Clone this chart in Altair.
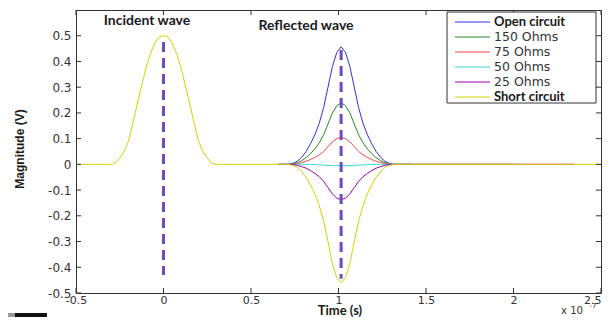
import altair as alt
import pandas as pd

# ---------------- data ----------------
SERIES = ["Open circuit", "150 Ohms", "75 Ohms", "50 Ohms", "25 Ohms", "Short circuit"]
COLORS = ["#3030e0", "#228b22", "#f04848", "#30d8d8", "#a000b0", "#d4d400"]

XTICKS = [-0.5, 0, 0.5, 1, 1.5, 2, 2.5]
YTICKS = [0.5, 0.4, 0.3, 0.2, 0.1, 0, -0.1, -0.2, -0.3, -0.4, -0.5]

# incident pulse (time x 1e-7 s)
inc_x = [-0.30, -0.275, -0.25, -0.225, -0.20, -0.175, -0.15, -0.125, -0.10, -0.075, -0.05, -0.025, 0.0,
         0.025, 0.05, 0.075, 0.10, 0.125, 0.15, 0.175, 0.20, 0.225, 0.25, 0.275, 0.30]
inc_y = [0, 0.005, 0.025, 0.05, 0.09, 0.16, 0.235, 0.305, 0.375, 0.43, 0.47, 0.495, 0.5,
         0.495, 0.47, 0.43, 0.375, 0.305, 0.235, 0.16, 0.09, 0.05, 0.025, 0.005, 0]

# reflected pulses
refl_x = [0.715, 0.74, 0.765, 0.79, 0.815, 0.84, 0.865, 0.89, 0.915, 0.94, 0.965, 0.99, 1.015,
          1.04, 1.065, 1.09, 1.115, 1.14, 1.165, 1.19, 1.215, 1.24, 1.265, 1.29, 1.315]
open_y = [0, 0.004, 0.012, 0.028, 0.05, 0.08, 0.115, 0.16, 0.22, 0.30, 0.38, 0.435, 0.457,
          0.435, 0.38, 0.30, 0.22, 0.16, 0.115, 0.08, 0.05, 0.028, 0.012, 0.004, 0]
ohm150_y = [0, 0.002, 0.006, 0.015, 0.026, 0.042, 0.06, 0.084, 0.115, 0.157, 0.2, 0.228, 0.24,
            0.228, 0.2, 0.157, 0.115, 0.084, 0.06, 0.042, 0.026, 0.015, 0.006, 0.002, 0]
ohm75_y = [0, 0.001, 0.003, 0.007, 0.012, 0.019, 0.027, 0.037, 0.05, 0.069, 0.087, 0.1, 0.105,
           0.1, 0.087, 0.069, 0.05, 0.037, 0.027, 0.019, 0.012, 0.007, 0.003, 0.001, 0]
ohm50_y = [0, 0, 0, 0, 0, 0, -0.001, -0.002, -0.003, -0.004, -0.005, -0.005, -0.005,
           -0.005, -0.005, -0.004, -0.003, -0.002, -0.001, 0, 0, 0, 0, 0, 0]
ohm25_y = [0, -0.001, -0.004, -0.009, -0.015, -0.024, -0.035, -0.048, -0.066, -0.09, -0.115, -0.131, -0.138,
           -0.131, -0.115, -0.09, -0.066, -0.048, -0.035, -0.024, -0.015, -0.009, -0.004, -0.001, 0]
short_refl_y = [0, -0.004, -0.012, -0.028, -0.05, -0.08, -0.115, -0.16, -0.22, -0.30, -0.385, -0.44, -0.46,
                -0.44, -0.385, -0.30, -0.22, -0.16, -0.115, -0.08, -0.05, -0.028, -0.012, -0.004, 0]

refl_start = 0.655
refl_end = [1.42, 2.0, 2.35, 1.42, 2.35]

# dashed markers
dash_x = [0, 1.015]
dash_top = [0.476, 0.445]
dash_bottom = [-0.43, -0.445]

# ---------------- layout constants ----------------
W, H = 525, 283
XD = [-0.5, 2.5]
YD = [-0.5, 0.6]
TICK_PX = 5
dx = TICK_PX * (XD[1] - XD[0]) / W
dy = TICK_PX * (YD[1] - YD[0]) / H

xs = alt.Scale(domain=XD, nice=False, zero=False)
ys = alt.Scale(domain=YD, nice=False, zero=False)

x_axis = alt.Axis(values=XTICKS, labelExpr="'' + datum.value", ticks=False, domain=False, grid=False,
                  title=None, labelFont="DejaVu Sans", labelFontSize=11, labelColor="#333",
                  labelPadding=1, labelFlush=False, labelOverlap=False,
                  labelAlign={"condition": {"test": "datum.value == 2.5", "value": "right"}, "value": "center"})
y_axis = alt.Axis(values=YTICKS, labelExpr="'' + datum.value", ticks=False, domain=False, grid=False,
                  title=None, labelFont="DejaVu Sans", labelFontSize=12, labelColor="#333",
                  labelPadding=5, labelOverlap=False)

layers = []

# series lines
ref_vals = [open_y, ohm150_y, ohm75_y, ohm50_y, ohm25_y]
for i, name in enumerate(SERIES):
    if name == "Short circuit":
        xx = [XD[0]] + inc_x + refl_x + [XD[1]]
        yy = [0] + inc_y + short_refl_y + [0]
    else:
        xx = [refl_start] + refl_x + [refl_end[i]]
        yy = [0] + ref_vals[i] + [0]
    df = pd.DataFrame({"t": xx, "v": yy, "i": range(len(xx))})
    layers.append(
        alt.Chart(df).mark_line(color=COLORS[i], strokeWidth=1).encode(
            x=alt.X("t:Q", scale=xs, axis=x_axis),
            y=alt.Y("v:Q", scale=ys, axis=y_axis),
            order="i:Q",
        )
    )

# dashed purple markers
dash_df = pd.DataFrame({"t": dash_x, "top": dash_top, "bot": dash_bottom})
layers.append(
    alt.Chart(dash_df).mark_rule(color="#7447c0", strokeWidth=3, strokeDash=[10, 6]).encode(
        x=alt.X("t:Q", scale=xs, axis=x_axis), y=alt.Y("top:Q", scale=ys, axis=y_axis), y2="bot:Q"
    )
)

# inward ticks on all four sides
xt = pd.DataFrame({"t": XTICKS * 2,
                   "a": [YD[0]] * len(XTICKS) + [YD[1]] * len(XTICKS),
                   "b": [YD[0] + dy] * len(XTICKS) + [YD[1] - dy] * len(XTICKS)})
yt = pd.DataFrame({"v": YTICKS * 2,
                   "a": [XD[0]] * len(YTICKS) + [XD[1]] * len(YTICKS),
                   "b": [XD[0] + dx] * len(YTICKS) + [XD[1] - dx] * len(YTICKS)})
layers.append(alt.Chart(xt).mark_rule(color="#333", strokeWidth=1).encode(
    x=alt.X("t:Q", scale=xs, axis=x_axis), y=alt.Y("a:Q", scale=ys, axis=y_axis), y2="b:Q"))
layers.append(alt.Chart(yt).mark_rule(color="#333", strokeWidth=1).encode(
    y=alt.Y("v:Q", scale=ys, axis=y_axis), x=alt.X("a:Q", scale=xs, axis=x_axis), x2="b:Q"))

one = pd.DataFrame({"k": [0]})

# annotations
def label(txt, px, py, font="Lato", size=14, weight="bold", angle=0, color="#1a1a1a", align="center"):
    return alt.Chart(pd.DataFrame({"s": [txt]})).mark_text(
        font=font, fontSize=size, fontWeight=weight, angle=angle, color=color,
        align=align, baseline="middle").encode(text="s:N", x=alt.value(px), y=alt.value(py))

layers.append(label("Incident wave", 71, 11))
layers.append(label("Reflected wave", 230, 16))
layers.append(label("Time (s)", 264, 301, size=13))
layers.append(label("Magnitude (V)", -56, 139, font="Liberation Sans", size=12, angle=270))
layers.append(label("x 10", 496, 301, font="DejaVu Sans", size=10, weight="normal", color="#333"))
layers.append(label("-7", 517, 296, font="DejaVu Sans", size=7, weight="normal", color="#333"))

# legend
layers.append(alt.Chart(one).mark_rect(fill="white", stroke="#333", strokeWidth=1).encode(
    x=alt.value(371), x2=alt.value(520), y=alt.value(2), y2=alt.value(93)))
leg = pd.DataFrame({"series": SERIES, "row": list(range(len(SERIES)))})
col = alt.Color("series:N", scale=alt.Scale(domain=SERIES, range=COLORS), legend=None)
leg_base = alt.Chart(leg).transform_calculate(py="12 + 15 * datum.row")
layers.append(leg_base.mark_rule(strokeWidth=1).encode(
    x=alt.value(379), x2=alt.value(414), y=alt.Y("py:Q", scale=None), color=col))
bold_names = ["Open circuit", "Short circuit"]
layers.append(leg_base.transform_filter(alt.FieldOneOfPredicate(field="series", oneOf=bold_names))
              .mark_text(font="Lato", fontSize=13, fontWeight="bold", align="left", baseline="middle", color="#1a1a1a")
              .encode(x=alt.value(418), y=alt.Y("py:Q", scale=None), text="series:N"))
layers.append(leg_base.transform_filter(~alt.FieldOneOfPredicate(field="series", oneOf=bold_names))
              .mark_text(font="DejaVu Sans", fontSize=12.5, align="left", baseline="middle", color="#333")
              .encode(x=alt.value(418), y=alt.Y("py:Q", scale=None), text="series:N"))

# dark scan artifact bottom-left
layers.append(alt.Chart(one).mark_rect(fill="#999").encode(
    x=alt.value(-68), x2=alt.value(-61), y=alt.value(303), y2=alt.value(310)))
layers.append(alt.Chart(one).mark_rect(fill="#111").encode(
    x=alt.value(-61), x2=alt.value(-29), y=alt.value(303), y2=alt.value(310)))

chart = alt.layer(*layers).properties(
    width=W, height=H,
    autosize=alt.AutoSizeParams(type="none"),
    padding={"left": 68, "top": 2, "right": 3, "bottom": 24},
    background="white",
).configure_view(stroke="#333", strokeWidth=1)

chart.save("out.html", embed_options={"renderer": "svg", "actions": False})
